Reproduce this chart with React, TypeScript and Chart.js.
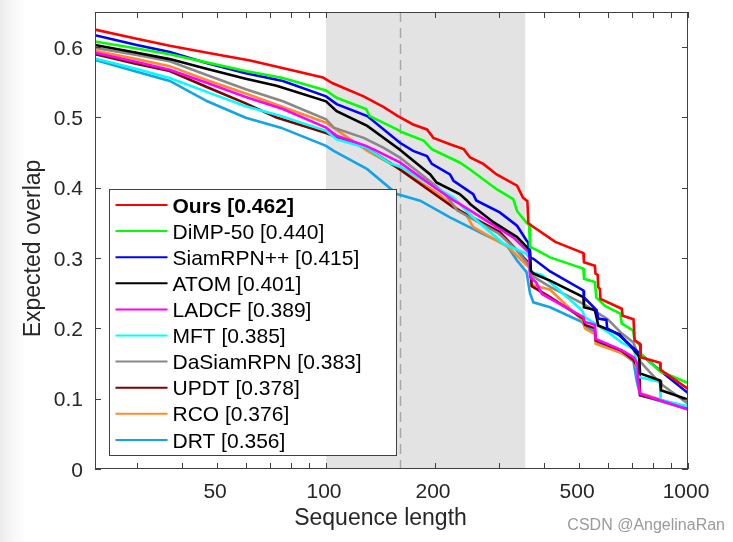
import { useEffect, useRef } from "react";
import { Chart, registerables } from "chart.js";

Chart.register(...registerables);

// ---------- data ----------
const LABELS = [
  "Ours [0.462]",
  "DiMP-50 [0.440]",
  "SiamRPN++ [0.415]",
  "ATOM [0.401]",
  "LADCF [0.389]",
  "MFT [0.385]",
  "DaSiamRPN [0.383]",
  "UPDT [0.378]",
  "RCO [0.376]",
  "DRT [0.356]",
];
const COLORS = [
  "#ff0000",
  "#00ff00",
  "#0000ff",
  "#000000",
  "#ff00ff",
  "#00ffff",
  "#888888",
  "#800000",
  "#ff8a2a",
  "#12a4e6",
];

// [sequence length, expected overlap]
const OURS: number[][] = [
  [23, 0.625], [30, 0.612], [37, 0.602], [47, 0.592], [61.7, 0.581], [79.5, 0.568], [98, 0.557],
  [104, 0.549], [127, 0.53], [144, 0.515], [158, 0.502], [174, 0.49], [190, 0.483], [198, 0.471],
  [220, 0.462], [240, 0.455], [250, 0.443], [272, 0.434], [296, 0.419], [337, 0.403], [350, 0.386],
  [360, 0.381], [362, 0.35], [370, 0.346], [430, 0.323], [514, 0.307], [516, 0.294], [553, 0.289],
  [555, 0.278], [563, 0.276], [565, 0.259], [571, 0.256], [573, 0.242], [656, 0.228], [660, 0.218],
  [707, 0.213], [712, 0.183], [737, 0.178], [740, 0.159], [837, 0.151], [840, 0.141], [1000, 0.114],
];
const DIMP50: number[][] = [
  [23, 0.608], [30, 0.598], [37, 0.59], [47, 0.578], [60, 0.566], [76, 0.556], [100, 0.5385],
  [107, 0.528], [129, 0.512], [132, 0.502], [157, 0.483], [163, 0.4785], [186, 0.467], [196, 0.455],
  [234, 0.436], [250, 0.426], [296, 0.398], [329, 0.384], [337, 0.367], [358, 0.35], [364, 0.347],
  [366, 0.316], [380, 0.312], [416, 0.301], [514, 0.285], [516, 0.2705], [553, 0.266], [558, 0.244],
  [590, 0.232], [650, 0.221], [656, 0.207], [705, 0.197], [712, 0.183], [737, 0.176], [740, 0.164],
  [837, 0.139], [1000, 0.1224],
];
const SIAMRPNPP: number[][] = [
  [23, 0.617], [30, 0.603], [37, 0.593], [47, 0.577], [60, 0.563], [76, 0.552], [100, 0.53],
  [107, 0.519], [130, 0.502], [160, 0.464], [174, 0.4525], [190, 0.445], [196, 0.434], [220, 0.419],
  [225, 0.41], [255, 0.391], [260, 0.382], [302, 0.365], [337, 0.346], [358, 0.325], [362, 0.322],
  [366, 0.301], [374, 0.299], [416, 0.281], [514, 0.254], [516, 0.244], [559, 0.226], [565, 0.214],
  [595, 0.212], [598, 0.2], [647, 0.19], [700, 0.174], [737, 0.164], [837, 0.14], [1000, 0.108],
];
const ATOM: number[][] = [
  [23, 0.603], [30, 0.592], [37, 0.583], [47, 0.569], [60, 0.555], [73, 0.545], [100, 0.523],
  [107, 0.509], [130, 0.488], [160, 0.454], [194, 0.419], [202, 0.4075], [234, 0.391], [245, 0.382],
  [250, 0.377], [290, 0.351], [337, 0.33], [366, 0.311], [368, 0.282], [374, 0.278], [416, 0.268],
  [514, 0.2444], [516, 0.23], [553, 0.226], [560, 0.214], [565, 0.204], [647, 0.1915], [707, 0.17],
  [733, 0.16], [737, 0.136], [837, 0.126], [842, 0.112], [1000, 0.0988],
];
const LADCF: number[][] = [
  [23, 0.592], [30, 0.579], [37, 0.568], [47, 0.549], [60, 0.529], [76, 0.512], [100, 0.4855],
  [107, 0.474], [129, 0.4596], [138, 0.4525], [160, 0.436], [194, 0.405], [225, 0.382], [234, 0.377],
  [278, 0.353], [329, 0.3295], [358, 0.311], [364, 0.308], [366, 0.273], [380, 0.266], [395, 0.249],
  [514, 0.216], [519, 0.209], [553, 0.205], [556, 0.185], [656, 0.169], [707, 0.159], [725, 0.15],
  [727, 0.126], [737, 0.107], [1000, 0.0847],
];
const MFT: number[][] = [
  [23, 0.584], [30, 0.569], [37, 0.556], [47, 0.536], [60, 0.516], [75, 0.502], [100, 0.481],
  [107, 0.469], [129, 0.457], [150, 0.435], [160, 0.43], [194, 0.405], [225, 0.386], [250, 0.362],
  [310, 0.32], [358, 0.306], [364, 0.3], [366, 0.28], [395, 0.276], [510, 0.2255], [519, 0.216],
  [600, 0.195], [656, 0.18], [707, 0.171], [716, 0.16], [730, 0.131], [837, 0.124], [840, 0.098],
  [1000, 0.089],
];
const DASIAMRPN: number[][] = [
  [23, 0.599], [30, 0.589], [37, 0.58], [47, 0.56], [60, 0.54], [76, 0.523], [100, 0.4975],
  [105, 0.4855], [127, 0.471], [144, 0.457], [160, 0.443], [202, 0.402], [215, 0.389], [230, 0.368],
  [300, 0.335], [337, 0.311], [366, 0.288], [370, 0.275], [416, 0.259], [514, 0.235], [600, 0.213],
  [656, 0.193], [707, 0.18], [740, 0.152], [837, 0.122], [1000, 0.093],
];
const UPDT: number[][] = [
  [23, 0.59], [30, 0.576], [37, 0.566], [47, 0.543], [60, 0.52], [73, 0.5], [100, 0.478],
  [129, 0.457], [157, 0.429], [225, 0.372], [302, 0.337], [358, 0.2965], [366, 0.29], [370, 0.26],
  [416, 0.2444], [514, 0.2137], [519, 0.205], [553, 0.2], [556, 0.183], [656, 0.168], [707, 0.155],
  [735, 0.14], [737, 0.105], [1000, 0.088],
];
const RCO: number[][] = [
  [23, 0.595], [30, 0.583], [37, 0.573], [47, 0.553], [60, 0.534], [100, 0.4926], [130, 0.4525],
  [157, 0.429], [202, 0.393], [245, 0.36], [255, 0.344], [320, 0.315], [358, 0.29], [366, 0.285],
  [370, 0.262], [416, 0.255], [514, 0.21], [519, 0.2], [553, 0.192], [556, 0.178], [656, 0.165],
  [707, 0.154], [727, 0.14], [737, 0.108], [1000, 0.086],
];
const DRT: number[][] = [
  [23, 0.582], [30, 0.565], [37, 0.552], [47, 0.523], [60, 0.4997], [75, 0.4855], [100, 0.4596],
  [105, 0.4525], [130, 0.4265], [157, 0.391], [182, 0.3816], [220, 0.358], [272, 0.334], [316, 0.318],
  [337, 0.2965], [358, 0.28], [362, 0.265], [366, 0.25], [374, 0.237], [416, 0.23], [510, 0.209],
  [519, 0.203], [553, 0.195], [556, 0.18], [656, 0.165], [707, 0.153], [720, 0.128], [737, 0.105],
  [1000, 0.085],
];
const SERIES = [OURS, DIMP50, SIAMRPNPP, ATOM, LADCF, MFT, DASIAMRPN, UPDT, RCO, DRT];

const X_MAJOR = [50, 100, 200, 500, 1000];
const X_MAJOR_LABELS = ["50", "100", "200", "500", "1000"];
const X_MINOR = [30, 40, 60, 70, 80, 90, 300, 400, 600, 700, 800, 900];
const Y_TICKS = [0, 0.1, 0.2, 0.3, 0.4, 0.5, 0.6];
const Y_LABELS = ["0", "0.1", "0.2", "0.3", "0.4", "0.5", "0.6"];
const X_RANGE = [23, 1000];
const Y_RANGE = [0, 0.65];
const SHADE_RANGE = [100, 355];
const DASH_AT = 160;
const X_TITLE = "Sequence length";
const Y_TITLE = "Expected overlap";
const WATERMARK = "CSDN @AngelinaRan";

// ---------- drawing ----------
const FONT = '"Liberation Sans", Arial, Helvetica, sans-serif';
const TEXT = "#262626";
const AXIS = "#404040";

const decor = {
  id: "decor",
  beforeDatasetsDraw(chart: any) {
    const { ctx, chartArea: ca, scales } = chart;
    const x = scales.x;
    ctx.save();
    const x0 = x.getPixelForValue(SHADE_RANGE[0]);
    const x1 = x.getPixelForValue(SHADE_RANGE[1]);
    ctx.fillStyle = "#e3e3e3";
    ctx.fillRect(x0, ca.top, x1 - x0, ca.bottom - ca.top);
    const xd = Math.round(x.getPixelForValue(DASH_AT)) + 0.5;
    ctx.strokeStyle = "#a8a8a8";
    ctx.lineWidth = 1.5;
    ctx.setLineDash([10, 6]);
    ctx.beginPath();
    ctx.moveTo(xd, ca.top);
    ctx.lineTo(xd, ca.bottom);
    ctx.stroke();
    ctx.restore();
  },
  afterDatasetsDraw(chart: any) {
    const { ctx, chartArea: ca, scales } = chart;
    const x = scales.x;
    const y = scales.y;
    ctx.save();
    // box
    ctx.strokeStyle = AXIS;
    ctx.lineWidth = 1;
    ctx.strokeRect(ca.left + 0.5, ca.top + 0.5, ca.right - ca.left - 1, ca.bottom - ca.top - 1);
    // ticks
    ctx.beginPath();
    const TL = 6;
    Y_TICKS.forEach((v) => {
      const py = Math.round(y.getPixelForValue(v)) + 0.5;
      ctx.moveTo(ca.left, py);
      ctx.lineTo(ca.left + TL, py);
      ctx.moveTo(ca.right, py);
      ctx.lineTo(ca.right - TL, py);
    });
    [...X_MAJOR, ...X_MINOR].forEach((v) => {
      const px = Math.round(x.getPixelForValue(v)) + 0.5;
      ctx.moveTo(px, ca.bottom);
      ctx.lineTo(px, ca.bottom - TL);
      ctx.moveTo(px, ca.top);
      ctx.lineTo(px, ca.top + TL);
    });
    ctx.stroke();
    // tick labels
    ctx.fillStyle = TEXT;
    ctx.font = `21px ${FONT}`;
    ctx.textBaseline = "alphabetic";
    ctx.textAlign = "right";
    Y_TICKS.forEach((v, i) => {
      const py = y.getPixelForValue(v);
      ctx.fillText(Y_LABELS[i], ca.left - 12, py + 7.5);
    });
    ctx.textAlign = "center";
    X_MAJOR.forEach((v, i) => {
      const px = x.getPixelForValue(v);
      ctx.fillText(X_MAJOR_LABELS[i], px - 2, ca.bottom + 29);
    });
    // titles
    ctx.font = `23px ${FONT}`;
    ctx.fillText(X_TITLE, (ca.left + ca.right) / 2 - 11, ca.bottom + 56);
    ctx.save();
    ctx.translate(40, (ca.top + ca.bottom) / 2 + 8);
    ctx.rotate(-Math.PI / 2);
    ctx.textAlign = "center";
    ctx.fillText(Y_TITLE, 0, 0);
    ctx.restore();
    // legend
    const lx = ca.left + 14.5;
    const ly = ca.top + 177.5;
    const lw = 287;
    const lh = 266;
    ctx.fillStyle = "#ffffff";
    ctx.fillRect(lx, ly, lw, lh);
    ctx.strokeStyle = AXIS;
    ctx.lineWidth = 1;
    ctx.strokeRect(lx, ly, lw, lh);
    chart.data.datasets.forEach((ds: any, i: number) => {
      const rowY = ly + 15.5 + i * 26.1;
      ctx.strokeStyle = ds.borderColor;
      ctx.lineWidth = 2;
      ctx.beginPath();
      ctx.moveTo(lx + 6, rowY);
      ctx.lineTo(lx + 58, rowY);
      ctx.stroke();
      ctx.fillStyle = "#000000";
      ctx.textAlign = "left";
      ctx.font = `${i === 0 ? "bold " : ""}21px ${FONT}`;
      ctx.fillText(ds.label, lx + 63, rowY + 7.6);
    });
    // watermark
    ctx.fillStyle = "#9a9a9a";
    ctx.font = `16px ${FONT}`;
    ctx.textAlign = "right";
    ctx.fillText(WATERMARK, chart.width - 8, chart.height - 12);
    ctx.restore();
  },
};

export default function App() {
  const ref = useRef<HTMLCanvasElement | null>(null);
  useEffect(() => {
    if (!ref.current) return;
    const chart = new Chart(ref.current, {
      type: "line",
      data: {
        datasets: SERIES.map((pts, i) => ({
          label: LABELS[i],
          data: pts.map(([lx, ov]) => ({ x: lx, y: ov })),
          borderColor: COLORS[i],
          backgroundColor: COLORS[i],
          borderWidth: 2.6,
          pointRadius: 0,
          tension: 0,
          fill: false,
        })),
      },
      options: {
        responsive: false,
        animation: false,
        devicePixelRatio: 1,
        events: [],
        layout: { padding: { left: 95, right: 45, top: 12, bottom: 73 } },
        plugins: {
          legend: { display: false },
          tooltip: { enabled: false },
          title: { display: false },
        },
        scales: {
          x: { type: "logarithmic", min: X_RANGE[0], max: X_RANGE[1], display: false },
          y: { type: "linear", min: Y_RANGE[0], max: Y_RANGE[1], display: false },
        },
      },
      plugins: [decor],
    } as any);
    return () => chart.destroy();
  }, []);
  return (
    <div
      style={{
        position: "fixed",
        left: 0,
        top: 0,
        width: 733,
        height: 542,
        background: "linear-gradient(to right, #ebebeb 0px, #f7f7f7 12px, #ffffff 26px)",
      }}
    >
      <canvas ref={ref} width={733} height={542} style={{ display: "block" }} />
    </div>
  );
}
